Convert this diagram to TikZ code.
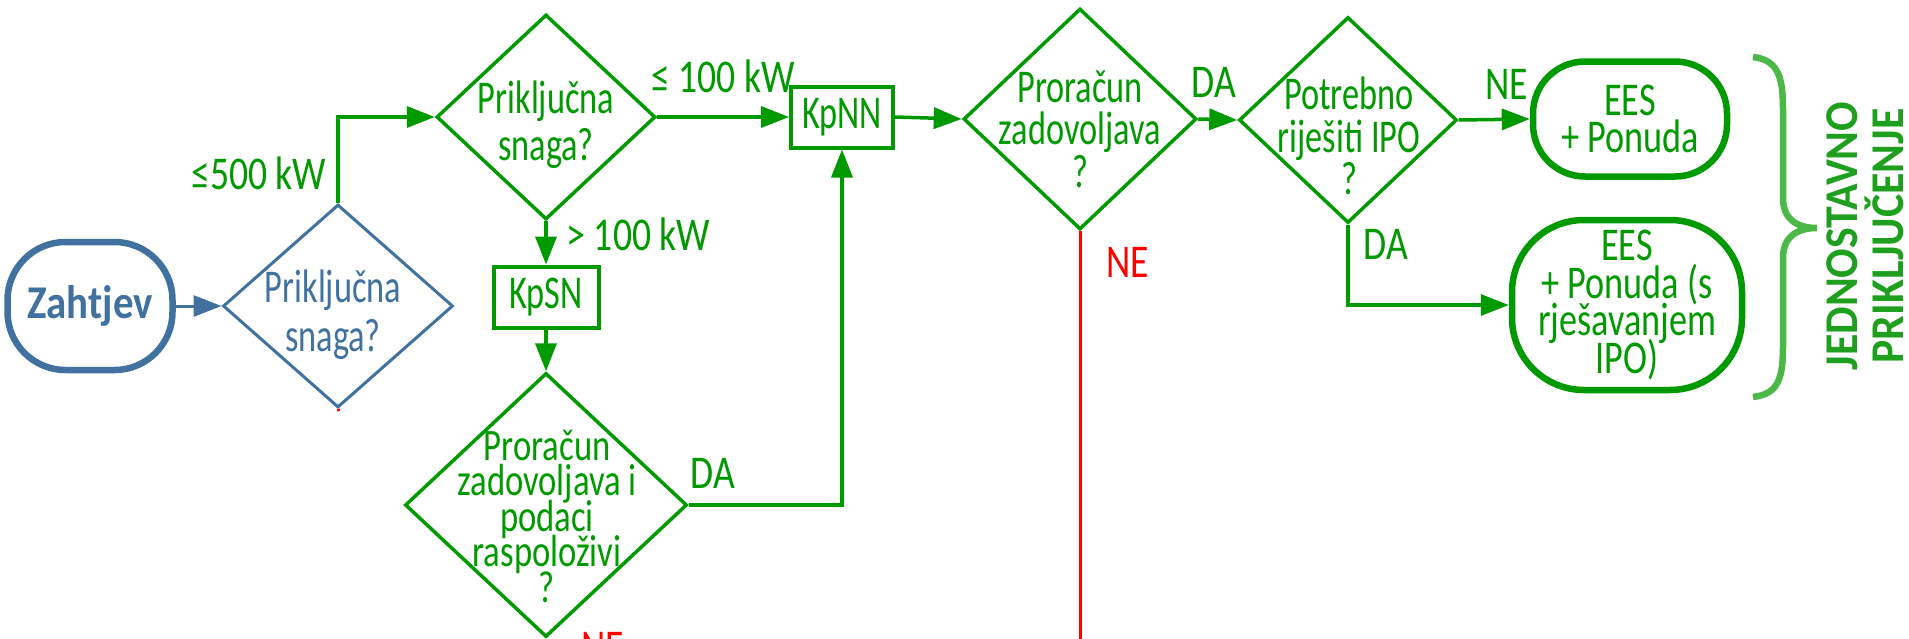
\documentclass[tikz,border=0pt]{standalone}
\usepackage{fontspec}
\setmainfont{Carlito}[FakeStretch=0.73]
\newfontfamily\boxfont{Carlito}[FakeStretch=0.77]
\newfontfamily\lblfont{Carlito}[FakeStretch=0.8]
\newfontfamily\semicond{Carlito}[FakeStretch=0.93]
\newfontfamily\zfont{Carlito}[FakeStretch=0.87]
\usetikzlibrary{shapes.geometric,arrows.meta,positioning}

\definecolor{gr}{HTML}{009A00}
\definecolor{bl}{HTML}{41729F}
\definecolor{lgr}{HTML}{4CB848}
\definecolor{vgr}{HTML}{1EA01E}
\definecolor{rd}{HTML}{FF0000}

\tikzset{
  fs/.style 2 args={font=\fontsize{#1}{#2}\selectfont},
  dec/.style={diamond, draw=gr, line width=3.5pt, inner sep=0pt},
  dtxt/.style={text=gr, align=center, inner sep=0pt},
  kbox/.style={rectangle, draw=gr, line width=4pt, text=gr, inner sep=0pt, minimum height=61pt, fs={47}{47}},
  term/.style={rectangle, draw=gr, line width=6.5pt, text=gr, align=center, inner sep=0pt},
  arr/.style={draw=gr, line width=3.5pt, -{Triangle[length=28pt,width=21pt]}},
  lbl/.style={text=gr, inner sep=0pt, font=\lblfont\fontsize{47}{47}\selectfont},
  redl/.style={draw=rd, line width=3pt},
}

\begin{document}
\lineskiplimit=-100pt
\begin{tikzpicture}[x=1pt, y=-1pt]
\useasboundingbox (0,0) rectangle (1909,638);

% start and first decision
\node[term, draw=bl, text=bl, minimum width=165pt, minimum height=128pt, rounded corners=58pt, font=\zfont\bfseries\fontsize{47}{48}\selectfont] (zahtjev) at (90,306) {Zahtjev};
\node[dec, draw=bl, line width=3pt, minimum width=230pt, minimum height=203pt] (snaga0) at (338,306) {};
\node[dtxt, text=bl, fs={47}{49}] (snaga0t) at (333,315) {Priključna\\snaga?};

% second decision and boxes
\node[dec, minimum width=219pt, minimum height=205pt] (snaga1) at (546,117) {};
\node[dtxt, fs={47}{47}] (snaga1t) at (546,125) {Priključna\\snaga?};
\node[kbox, minimum width=102pt] (kpnn) at (842,117) {KpNN};
\node[kbox, minimum width=105pt] (kpsn) at (546,297) {KpSN};
\node[dec, minimum width=282pt, minimum height=264pt] (uvjet1) at (546,505) {};
\node[dtxt, font=\boxfont\fontsize{45}{35.5}\selectfont] (uvjet1t) at (547,516) {Proračun\\zadovoljava i\\podaci\\raspoloživi\\?};

% right part
\node[dec, minimum width=233pt, minimum height=221pt] (uvjet2) at (1080,119) {};
\node[dtxt, fs={47}{42.5}] (uvjet2t) at (1080,129) {Proračun\\zadovoljava\\?};
\node[dec, minimum width=218pt, minimum height=206pt] (ipo) at (1348,120) {};
\node[dtxt, fs={47}{42.5}] (ipot) at (1349,136) {Potrebno\\riješiti IPO\\?};
\node[term, minimum width=194pt, minimum height=115pt, rounded corners=52pt, font=\boxfont\fontsize{47}{37}\selectfont] (ees1) at (1630,119) {EES\\+ Ponuda};
\node[term, minimum width=230pt, minimum height=170pt, rounded corners=72pt, font=\boxfont\fontsize{47}{37.5}\selectfont] (ees2) at (1627,305) {EES\\+ Ponuda (s\\rješavanjem\\IPO)};

% connectors
\draw[arr, draw=bl, line width=3pt] (zahtjev.east) -- (snaga0.west);
\draw[arr] (snaga0.north) |- node[lbl, pos=0.17, left=10pt] (l500) {≤500 kW} (snaga1.west);
\draw[arr] (snaga1.east) -- node[lbl, above=22pt] (l100a) {≤ 100 kW} (kpnn.west);
\draw[arr] (snaga1.south) -- node[lbl, pos=0.3, right=19pt] (l100b) {> 100 kW} (kpsn.north);
\draw[arr] (kpsn.south) -- (uvjet1.north);
\draw[arr] (uvjet1.east) -| node[lbl, pos=0, anchor=south west, yshift=15pt] (da1) {DA} (kpnn.south);
\draw[arr] (kpnn.east) -- (uvjet2.west);
\draw[arr] (uvjet2.east) -- node[lbl, pos=0.4, above=20pt] (da2) {DA} (ipo.west);
\draw[arr] (ipo.east) -- node[lbl, pos=0.67, above=18pt] (ne1) {NE} (ees1.west);
\draw[arr] (ipo.south) |- node[lbl, pos=0.12, right=14pt] (da3) {DA} (ees2.west);

% NE branches
\coordinate (ne2end) at (1080,650);
\draw[redl] (uvjet2.south) -- node[lbl, text=rd, pos=0, anchor=north west, xshift=25pt, yshift=-15pt] (ne2) {NE} (ne2end);
\coordinate (ne3end) at (546,700);
\draw[redl] (uvjet1.south) -- node[lbl, text=rd, pos=0, anchor=north west, xshift=34pt, yshift=8pt] (ne3) {NE} (ne3end);
\coordinate (ne0end) at (339,411);
\draw[redl] (snaga0.south) -- (ne0end);

% brace and group label
\draw[lgr, line width=6.5pt] (1753,57) .. controls (1780,60) and (1783,80) .. (1783,112) -- (1783,198)
  .. controls (1783,220) and (1798,228) .. (1817,228) .. controls (1798,228) and (1783,236) .. (1783,258)
  -- (1783,344) .. controls (1783,376) and (1780,394) .. (1753,397);
\node[rotate=90, align=center, text=vgr, inner sep=0pt, font=\semicond\bfseries\fontsize{47}{46}\selectfont] (jp) at (1865,236) {JEDNOSTAVNO\\PRIKLJUČENJE};
\end{tikzpicture}
\end{document}
